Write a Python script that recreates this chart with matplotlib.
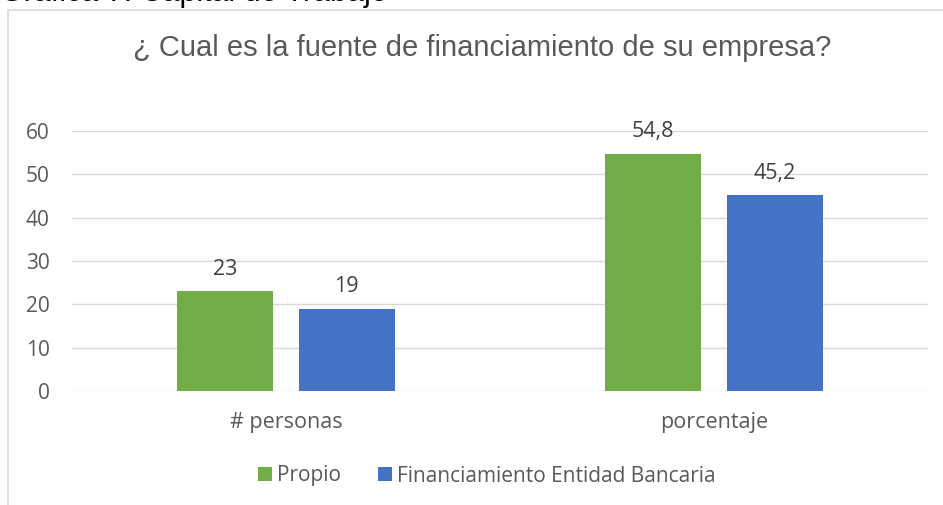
import matplotlib
matplotlib.use("Agg")
import matplotlib.pyplot as plt
import matplotlib.patches as patches
import numpy as np

categorias = ["# personas", "porcentaje"]
series = ["Propio", "Financiamiento Entidad Bancaria"]
propio = [23, 54.8]
bancaria = [19, 45.2]
etiquetas_propio = ["23", "54,8"]
etiquetas_bancaria = ["19", "45,2"]
colores = ["#70AD47", "#4472C4"]
gris = "#595959"

W, H = 943, 505
fig = plt.figure(figsize=(W / 100, H / 100), dpi=100)

# marco del grafico (sale por la derecha y abajo)
fig.patches.append(patches.Rectangle((8 / W, -0.1), 1.2, (H - 10) / H + 0.1,
                                     transform=fig.transFigure, fill=False,
                                     edgecolor="#D9D9D9", linewidth=1.2))
# titulo del documento, cortado arriba como en la captura
fig.text(0, 1 - 1.5 / H, "Gráfica 7. Capital de Trabajo", fontsize=22,
         family="Liberation Sans", color="black", va="baseline", ha="left")

ax = fig.add_axes([72 / W, 1 - 391 / H, (928 - 72) / W, (391 - 131) / H])
x = np.arange(len(categorias))
ancho = 0.224
sep = 0.03
b1 = ax.bar(x - ancho / 2 - sep, propio, ancho, color=colores[0], label=series[0], zorder=3)
b2 = ax.bar(x + ancho / 2 + sep, bancaria, ancho, color=colores[1], label=series[1], zorder=3)

for barras, etiquetas in [(b1, etiquetas_propio), (b2, etiquetas_bancaria)]:
    for b, t in zip(barras, etiquetas):
        ax.text(b.get_x() + b.get_width() / 2, b.get_height() + 2.6, t,
                ha="center", va="bottom", fontsize=15.5, color="#404040",
                family="Open Sans")

ax.set_xlim(-0.5, 1.5)
ax.set_ylim(0, 60)
ax.set_yticks(range(0, 61, 10))
ax.set_xticks(x)
ax.set_xticklabels(categorias)
ax.grid(axis="y", color="#D9D9D9", linewidth=1, zorder=0)
for s in ax.spines.values():
    s.set_visible(False)
ax.tick_params(length=0, labelsize=15, colors=gris)
ax.tick_params(axis="y", pad=16)
ax.tick_params(axis="x", pad=15, labelsize=15.5)
for lab in ax.get_xticklabels() + ax.get_yticklabels():
    lab.set_family("Open Sans")

fig.text(482 / W, 1 - 48 / H, "¿ Cual es la fuente de financiamiento de su empresa?",
         fontsize=21, color=gris, family="Liberation Sans", ha="center", va="center")

fig.legend(handles=[b1, b2], labels=series, loc="center", bbox_to_anchor=(487 / W, 1 - 476 / H),
           ncol=2, frameon=False, handlelength=0.65, handleheight=0.65, handletextpad=0.25,
           columnspacing=1.8, prop={"family": "Open Sans", "size": 15}, labelcolor=gris)

fig.savefig("out.png", dpi=100)
